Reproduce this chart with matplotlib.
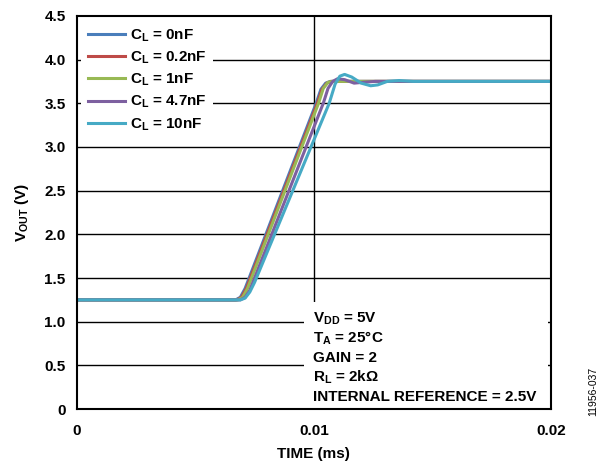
import matplotlib
matplotlib.use("Agg")
import matplotlib.pyplot as plt
from matplotlib.patches import Rectangle

plt.rcParams['font.family'] = ['Liberation Sans', 'DejaVu Sans']
plt.rcParams['font.weight'] = 'bold'
plt.rcParams['mathtext.fontset'] = 'custom'
plt.rcParams['mathtext.rm'] = 'Liberation Sans:bold'
plt.rcParams['mathtext.it'] = 'Liberation Sans:bold'
plt.rcParams['mathtext.bf'] = 'Liberation Sans:bold'
plt.rcParams['mathtext.default'] = 'bf'

# step response, time in ms, output in V
t_0nF = [0, 0.0067, 0.0069, 0.0071, 0.0072, 0.0101, 0.0103, 0.0105, 0.0107, 0.02]
v_0nF = [1.25, 1.25, 1.28, 1.38, 1.45, 3.50, 3.66, 3.73, 3.75, 3.75]

t_02nF = [0, 0.00675, 0.00695, 0.00715, 0.00725, 0.01015, 0.01035, 0.01055, 0.01075, 0.02]
v_02nF = [1.25, 1.25, 1.28, 1.38, 1.45, 3.50, 3.66, 3.73, 3.75, 3.75]

t_1nF = [0, 0.0068, 0.0070, 0.0072, 0.0073, 0.0102, 0.0104, 0.0106, 0.0108, 0.02]
v_1nF = [1.25, 1.25, 1.28, 1.38, 1.45, 3.50, 3.67, 3.74, 3.75, 3.75]

t_47nF = [0, 0.0069, 0.0071, 0.0073, 0.0074, 0.0104, 0.0106, 0.0108, 0.0110, 0.0113, 0.0117, 0.0121, 0.0126, 0.02]
v_47nF = [1.25, 1.25, 1.28, 1.36, 1.43, 3.50, 3.67, 3.75, 3.78, 3.77, 3.73, 3.74, 3.75, 3.75]

t_10nF = [0, 0.0069, 0.0071, 0.0073, 0.0075, 0.01065, 0.0109, 0.0111, 0.0113, 0.0116, 0.0120, 0.0124, 0.0127, 0.0131, 0.0136, 0.0142, 0.02]
v_10nF = [1.25, 1.25, 1.27, 1.34, 1.45, 3.50, 3.72, 3.81, 3.83, 3.80, 3.73, 3.70, 3.71, 3.75, 3.76, 3.75, 3.75]

labels = ['C$_L$ = 0nF', 'C$_L$ = 0.2nF', 'C$_L$ = 1nF', 'C$_L$ = 4.7nF', 'C$_L$ = 10nF']
colors = ['#4a7ebb', '#be4b48', '#98b954', '#7d60a0', '#46aac5']
series = [(t_0nF, v_0nF), (t_02nF, v_02nF), (t_1nF, v_1nF), (t_47nF, v_47nF), (t_10nF, v_10nF)]

notes = ['V$_{DD}$ = 5V', 'T$_A$ = 25°C', 'GAIN = 2', 'R$_L$ = 2kΩ', 'INTERNAL REFERENCE = 2.5V']

fig = plt.figure(figsize=(6, 4.66), dpi=100)
ax = fig.add_axes([0.128, 0.122, 0.79, 0.844])

for yv in [0.5, 1.0, 1.5, 2.0, 2.5, 3.0, 3.5, 4.0]:
    ax.axhline(yv, color='black', lw=1.0, zorder=1)
ax.axvline(0.01, color='black', lw=1.0, zorder=1)

for (t, v), lab, c in zip(series, labels, colors):
    ax.plot(t, v, color=c, lw=2.2, label=lab, zorder=3, solid_joinstyle='round')

ax.set_xlim(0, 0.02)
ax.set_ylim(0, 4.5)
ax.set_xticks([0, 0.01, 0.02])
ax.set_xticklabels(['0', '0.01', '0.02'])
ax.set_yticks([0, 0.5, 1.0, 1.5, 2.0, 2.5, 3.0, 3.5, 4.0, 4.5])
ax.set_yticklabels(['0', '0.5', '1.0', '1.5', '2.0', '2.5', '3.0', '3.5', '4.0', '4.5'])
ax.tick_params(axis='both', labelsize=11, length=0)
ax.tick_params(axis='x', pad=11)
ax.tick_params(axis='y', pad=8)
for s in ax.spines.values():
    s.set_linewidth(1.5)
    s.set_zorder(6)

ax.set_xlabel('TIME (ms)', fontsize=11, fontweight='bold', labelpad=6)
ax.set_ylabel('V$_{OUT}$ (V)', fontsize=11, fontweight='bold', labelpad=10)

leg = ax.legend(loc='upper left', fontsize=11, frameon=True, facecolor='white',
                edgecolor='none', framealpha=1, fancybox=False,
                handlelength=2.4, handletextpad=0.3, labelspacing=0.38,
                borderaxespad=0.3, borderpad=0.45)
leg.set_zorder(5)

ax.add_patch(Rectangle((0.48, 0.003), 0.515, 0.27, transform=ax.transAxes,
                       facecolor='white', edgecolor='none', zorder=4))
for i, s in enumerate(notes):
    ax.text(0.499, 0.23 - i * 0.0495, s, transform=ax.transAxes, fontsize=11,
            fontweight='bold', va='center', ha='left', zorder=5)

fig.text(0.988, 0.16, '11956-037', rotation=90, fontsize=7.5, fontweight='normal',
         ha='center', va='center')

fig.savefig('out.png', dpi=100)
